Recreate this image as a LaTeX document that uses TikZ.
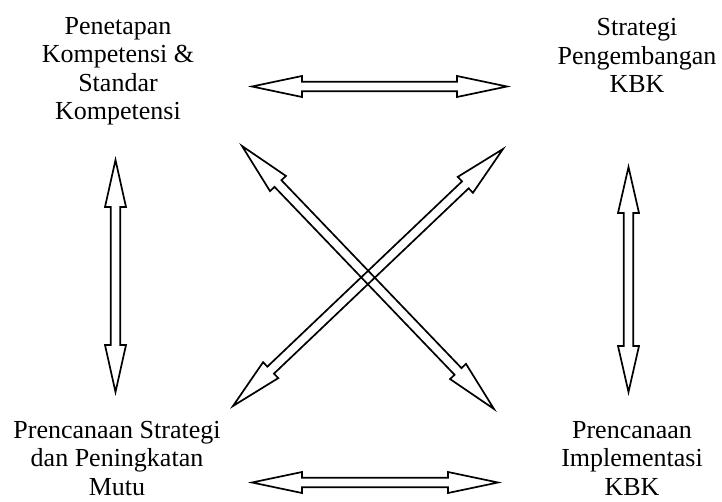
\documentclass[tikz,border=0pt]{standalone}
\usepackage{fontspec}
\setmainfont{Liberation Serif}
\usetikzlibrary{calc}

% Outlined double-headed block arrow between two named coordinates.
% #1,#2: end points; #3: head length; #4: head half-width; #5: shaft half-width
\newcommand{\blockarrow}[5]{%
  \path coordinate (ha) at ($(#1)!#3!(#2)$)
        coordinate (hb) at ($(#2)!#3!(#1)$);
  \draw[arrowline] (#1)
    -- ($(ha)!#4!-90:(#2)$) -- ($(ha)!#5!-90:(#2)$)
    -- ($(hb)!#5!90:(#1)$)  -- ($(hb)!#4!90:(#1)$)
    -- (#2)
    -- ($(hb)!#4!-90:(#1)$) -- ($(hb)!#5!-90:(#1)$)
    -- ($(ha)!#5!90:(#2)$)  -- ($(ha)!#4!90:(#2)$)
    -- cycle;}

\begin{document}
\begin{tikzpicture}[x=1pt,y=-1pt,
  arrowline/.style={line width=1.7pt,line join=miter},
  label/.style={align=center,anchor=base,inner sep=0pt,
    font=\fontsize{26}{28.5}\selectfont}]
  \useasboundingbox (0,0) rectangle (722,502);

  % corner labels (anchored at the baseline of their last line)
  \node[label] (tl) at (118,120) {Penetapan\\Kompetensi \&\\Standar\\Kompetensi};
  \node[label] (tr) at (637,93) {Strategi\\Pengembangan\\KBK};
  \node[label] (bl) at (117,495) {Prencanaan Strategi\\dan Peningkatan\\Mutu};
  \node[label] (br) at (632,495) {Prencanaan\\Implementasi\\KBK};

  % arrow end points
  \coordinate (topL) at (252,86.5);
  \coordinate (topR) at (507,86.5);
  \coordinate (botL) at (252,482.5);
  \coordinate (botR) at (498,482.5);
  \coordinate (lefT) at (115.5,160);
  \coordinate (lefB) at (115.5,392);
  \coordinate (rigT) at (628.5,167);
  \coordinate (rigB) at (628.5,392);
  \coordinate (nw) at (242,146);
  \coordinate (se) at (494,409);
  \coordinate (ne) at (503,149);
  \coordinate (sw) at (233,406);

  \blockarrow{topL}{topR}{50pt}{10.5pt}{4.8pt}
  \blockarrow{botL}{botR}{50pt}{10.5pt}{4.8pt}
  \blockarrow{lefT}{lefB}{47pt}{10.5pt}{4.8pt}
  \blockarrow{rigT}{rigB}{46pt}{10.5pt}{4.8pt}
  \blockarrow{nw}{se}{52pt}{11pt}{4.8pt}
  \blockarrow{ne}{sw}{52pt}{11pt}{4.8pt}
\end{tikzpicture}
\end{document}
